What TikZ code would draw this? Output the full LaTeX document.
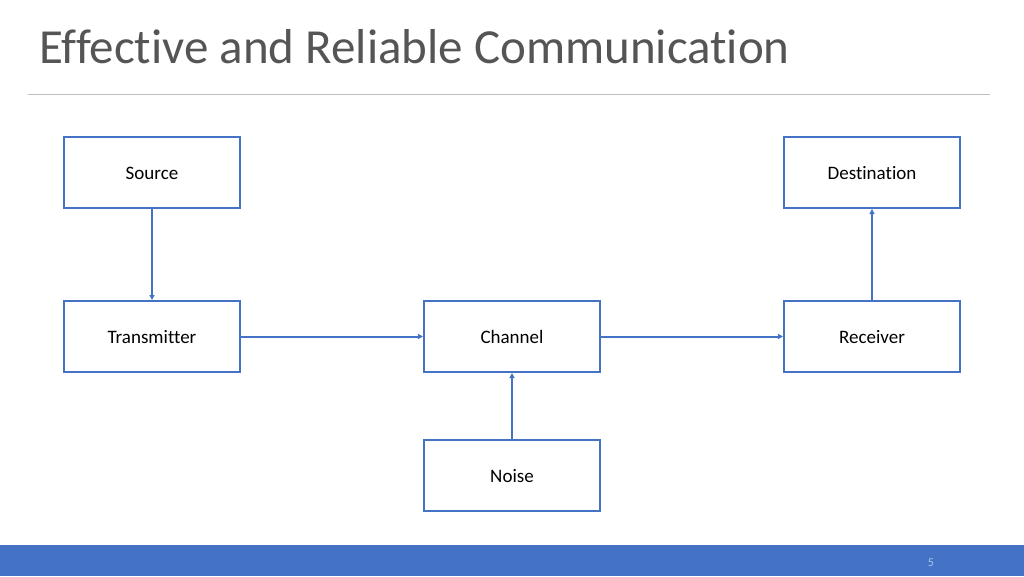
\documentclass[tikz,border=0pt]{standalone}
\usepackage{fontspec}
\setmainfont{Carlito}[Ligatures=NoCommon]
\usetikzlibrary{arrows.meta}
\definecolor{boxblue}{HTML}{4472C4}
\definecolor{titlegray}{HTML}{555555}
\definecolor{rulegray}{HTML}{BFBFBF}
\definecolor{pagenum}{HTML}{A9C4EB}
\tikzset{
  blockbox/.style={draw=boxblue, line width=2pt, fill=white, minimum width=176pt, minimum height=71pt, inner sep=0pt, text height=15pt, text depth=2pt, font=\fontsize{19pt}{21pt}\selectfont, text=black},
  conn/.style={draw=boxblue, line width=2pt, -{Triangle[length=5pt,width=5pt]}}
}
\begin{document}
\begin{tikzpicture}[x=1pt,y=-1pt]
\useasboundingbox (0,0) rectangle (1024,576);
\fill[white] (0,0) rectangle (1024,576);
\node[anchor=base west, inner sep=0pt, text=titlegray, font=\fontsize{49pt}{53pt}\selectfont] (title) at (39,63) {Effective and Reliable Communication};
\draw[rulegray, line width=1pt] (28,94) -- (990,94);
\fill[boxblue] (0,545) rectangle (1024,576);
\node[text=pagenum, font=\fontsize{12pt}{13pt}\selectfont, inner sep=0pt] (pg) at (931,563) {5};

\node[blockbox] (src) at (152,172.5) {Source};
\node[blockbox] (tx) at (152,336.5) {Transmitter};
\node[blockbox] (ch) at (512,336.5) {Channel};
\node[blockbox] (rx) at (872,336.5) {Receiver};
\node[blockbox] (dst) at (872,172.5) {Destination};
\node[blockbox] (noise) at (512,475.5) {Noise};

\draw[conn] (src) -- (tx);
\draw[conn] (tx) -- (ch);
\draw[conn] (ch) -- (rx);
\draw[conn] (rx) -- (dst);
\draw[conn] (noise) -- (ch);
\end{tikzpicture}
\end{document}
